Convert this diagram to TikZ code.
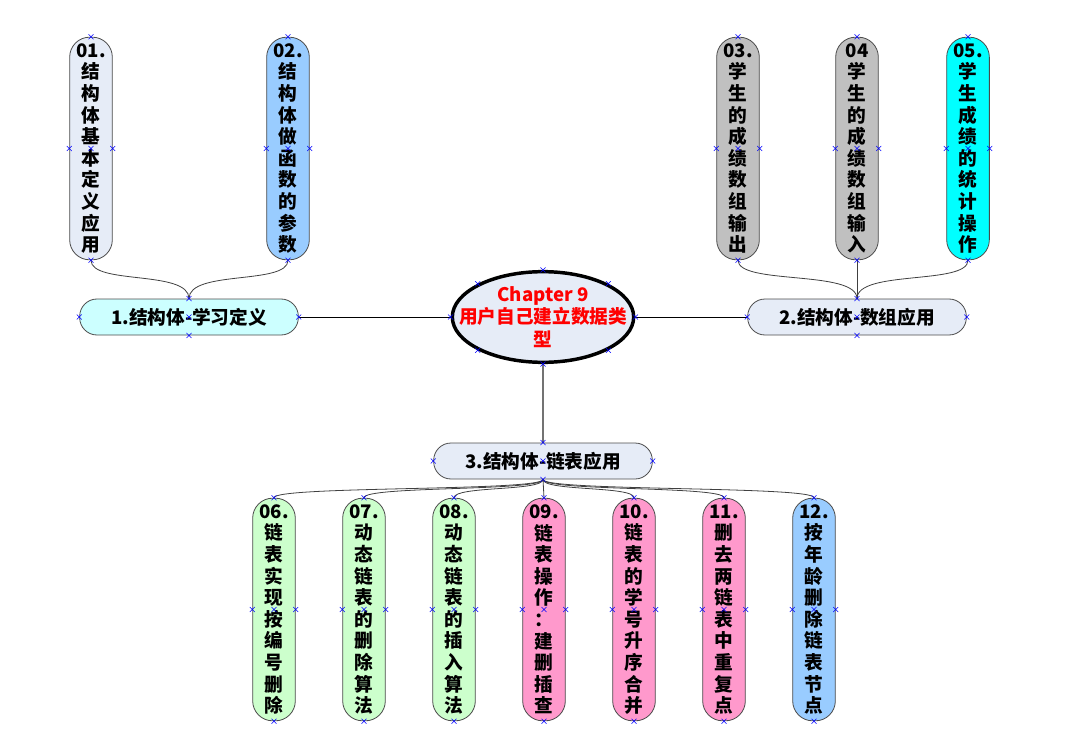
\documentclass[tikz,border=0pt]{standalone}
\usepackage{fontspec}
\setmainfont{Noto Sans CJK SC}
\usepackage{xcolor}
\usepackage{tikz}
\usetikzlibrary{calc,shapes.geometric}

\definecolor{paleblue}{HTML}{E6ECF7}
\definecolor{skyblue}{HTML}{99CCFF}
\definecolor{lgrey}{HTML}{C0C0C0}
\definecolor{aqua}{HTML}{00FFFF}
\definecolor{mint}{HTML}{CCFFCC}
\definecolor{rose}{HTML}{FF99CC}
\definecolor{icecyan}{HTML}{CCFFFF}

\begin{document}
\begin{tikzpicture}[x=0.75pt, y=-0.75pt,
  leaf/.style={draw=black!70, line width=0.6pt, rounded corners=15pt, minimum width=32pt,
    minimum height=167pt, inner sep=1pt, align=center, font=\bfseries\fontsize{14}{16.2}\selectfont},
  branch/.style={draw=black!70, line width=0.6pt, rounded corners=13pt, minimum width=164pt,
    minimum height=27pt, fill=paleblue, font=\bfseries\fontsize{14}{17}\selectfont},
  link/.style={black!75, line width=0.6pt},
  handle/.style={blue, line width=0.4pt}]
  \def\hmark#1{\draw[handle] ($(#1)+(-2.5,-2.5)$) -- ($(#1)+(2.5,2.5)$) ($(#1)+(-2.5,2.5)$) -- ($(#1)+(2.5,-2.5)$);}
  \useasboundingbox (0,0) rectangle (1069,755);

  \node[ellipse, draw=black, line width=2.6pt, fill=paleblue, minimum width=136pt, minimum height=68pt,
    inner xsep=-20pt, inner ysep=-4pt, align=center, text=red, font=\bfseries\fontsize{14}{17}\selectfont]
    (core) at (543,317) {Chapter 9\\用户自己建立数据类\\型};

  \node[branch, fill=icecyan] (b1) at (189,317) {1.结构体-学习定义};
  \node[branch] (b2) at (857,317) {2.结构体-数组应用};
  \node[branch] (b3) at (543,461) {3.结构体-链表应用};

  \foreach \nm/\xx/\col/\txt in {
    l01/91/paleblue/{01.\\结\\构\\体\\基\\本\\定\\义\\应\\用},
    l02/288/skyblue/{02.\\结\\构\\体\\做\\函\\数\\的\\参\\数},
    l03/738/lgrey/{03.\\学\\生\\的\\成\\绩\\数\\组\\输\\出},
    l04/857/lgrey/{04\\学\\生\\的\\成\\绩\\数\\组\\输\\入},
    l05/968/aqua/{05.\\学\\生\\成\\绩\\的\\统\\计\\操\\作}}
    \node[leaf, fill=\col] (\nm) at (\xx,148.5) {\txt};

  \foreach \nm/\xx/\col/\txt in {
    l06/274/mint/{06.\\链\\表\\实\\现\\按\\编\\号\\删\\除},
    l07/364/mint/{07.\\动\\态\\链\\表\\的\\删\\除\\算\\法},
    l08/454/mint/{08.\\动\\态\\链\\表\\的\\插\\入\\算\\法},
    l09/544/rose/{09.\\链\\表\\操\\作\\：\\建\\删\\插\\查},
    l10/634/rose/{10.\\链\\表\\的\\学\\号\\升\\序\\合\\并},
    l11/724/rose/{11.\\删\\去\\两\\链\\表\\中\\重\\复\\点},
    l12/814/skyblue/{12.\\按\\年\\龄\\删\\除\\链\\表\\节\\点}}
    \node[leaf, fill=\col] (\nm) at (\xx,609.5) {\txt};

  \draw[link, black] (core.west) -- (b1.east);
  \draw[link, black] (core.east) -- (b2.west);
  \draw[link, black!55, line width=1pt] (core.south) -- (b3.north);

  \foreach \lf in {l01,l02}
    \draw[link] (b1.north) .. controls +(0,-29) and +(0,25) .. (\lf.south);
  \foreach \lf in {l03,l05}
    \draw[link] (b2.north) .. controls +(0,-29) and +(0,25) .. (\lf.south);
  \draw[link] (b2.north) -- (l04.south);
  \foreach \lf in {l06,l07,l08,l10,l11,l12}
    \draw[link] (b3.south) .. controls +(0,12) and +(0,-12) .. (\lf.north);
  \draw[link] (b3.south) -- (l09.north);

  \foreach \nm in {l01,l02,l03,l04,l05,l06,l07,l08,l09,l10,l11,l12,b1,b2,b3}
    \foreach \an in {north,south,east,west,center}
      {\hmark{\nm.\an}}
  \foreach \an in {north,south,east,west,north east,north west,south east,south west}
    {\hmark{core.\an}}
\end{tikzpicture}
\end{document}
